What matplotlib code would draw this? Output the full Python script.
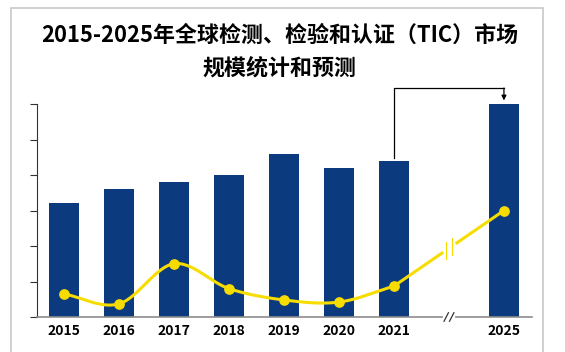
import matplotlib.pyplot as plt
import numpy as np

plt.rcParams['font.family'] = ['Noto Sans CJK SC', 'DejaVu Sans']

years = ['2015', '2016', '2017', '2018', '2019', '2020', '2021', '2025']
market = [3.2, 3.6, 3.8, 4.0, 4.6, 4.2, 4.4, 6.0]
growth = [0.65, 0.37, 1.5, 0.8, 0.48, 0.42, 0.87, 3.0]

pos = np.array([0, 1, 2, 3, 4, 5, 6, 8], dtype=float)
bar_color = '#0B3A7E'
line_color = '#F7DC00'


def catmull_rom(x, y, n=30):
    # smooth curve through the points, like the office "smoothed line"
    x = np.asarray(x, float)
    y = np.asarray(y, float)
    px = np.concatenate([[2 * x[0] - x[1]], x, [2 * x[-1] - x[-2]]])
    py = np.concatenate([[2 * y[0] - y[1]], y, [2 * y[-1] - y[-2]]])
    xs, ys = [], []
    t = np.linspace(0, 1, n)
    for i in range(1, len(px) - 2):
        for arr, out in ((px, xs), (py, ys)):
            p0, p1, p2, p3 = arr[i - 1], arr[i], arr[i + 1], arr[i + 2]
            out.extend(0.5 * ((2 * p1) + (-p0 + p2) * t
                              + (2 * p0 - 5 * p1 + 4 * p2 - p3) * t ** 2
                              + (-p0 + 3 * p1 - 3 * p2 + p3) * t ** 3))
    return np.array(xs), np.array(ys)


fig = plt.figure(figsize=(5.65, 3.52), dpi=100)
ax = fig.add_axes([37 / 565, 35 / 352, (532 - 37) / 565, (317 - 104) / 352])

# outer frame
fig.patches.append(plt.Rectangle((11 / 565, -0.01), (543 - 11) / 565, (348 - 0) / 352,
                                 transform=fig.transFigure, fill=False,
                                 edgecolor='#C8C8C8', linewidth=1.2))

ax.bar(pos, market, width=0.55, color=bar_color, zorder=2)

sx, sy = catmull_rom(pos[:7], growth[:7])
ax.plot(sx, sy, color=line_color, linewidth=2.2, zorder=3, solid_capstyle='round')
ax.plot(pos[6:], growth[6:], color=line_color, linewidth=2.2, zorder=3)
ax.scatter(pos, growth, s=45, color=line_color, zorder=4)

# break marks on line and x axis
mx = (pos[6] + pos[7]) / 2
my = (growth[6] + growth[7]) / 2
ax.plot([mx - 0.04, mx + 0.04], [my - 0.02, my + 0.07], color='white', linewidth=7, zorder=5)
for dx in (-0.05, 0.05):
    ax.plot([mx + dx, mx + dx], [my - 0.24 + dx, my + 0.24 + dx], color=line_color,
            linewidth=0.8, zorder=6)
ax.plot([mx - 0.08, mx + 0.08], [0, 0], color='white', linewidth=3, zorder=5,
        clip_on=False)
for dx in (-0.05, 0.05):
    ax.plot([mx + dx - 0.04, mx + dx + 0.04], [-0.12, 0.12], color='#333333',
            linewidth=0.9, zorder=6, clip_on=False)

# bracket arrow 2021 -> 2025
top = 6.45
ax.plot([pos[6], pos[6], pos[7]], [market[6] + 0.08, top, top], color='black',
        linewidth=0.9, clip_on=False, zorder=5)
ax.annotate('', xy=(pos[7], market[7] + 0.1), xytext=(pos[7], top),
            arrowprops=dict(arrowstyle='-|>', color='black', lw=0.9,
                            mutation_scale=7, shrinkA=0, shrinkB=0),
            annotation_clip=False)

ax.set_xlim(-0.49, 8.51)
ax.set_ylim(0, 6)
ax.set_xticks(pos)
ax.set_xticklabels(years, fontsize=10, fontweight='bold')
ax.tick_params(axis='x', length=0, pad=5)
ax.set_yticks(np.arange(0, 7, 1))
ax.set_yticklabels([])
ax.tick_params(axis='y', direction='out', length=5, width=0.8, colors='#333333')
for s in ('top', 'right'):
    ax.spines[s].set_visible(False)
ax.spines['left'].set_color('#333333')
ax.spines['bottom'].set_color('#8C8C8C')
ax.spines['bottom'].set_linewidth(1.2)

fig.text(0.495, 1 - 35 / 352, '2015-2025年全球检测、检验和认证（TIC）市场',
         ha='center', va='center', fontsize=15.8, fontweight='bold')
fig.text(0.495, 1 - 68 / 352, '规模统计和预测', ha='center', va='center',
         fontsize=15.8, fontweight='bold')

fig.savefig('out.png', dpi=100)
